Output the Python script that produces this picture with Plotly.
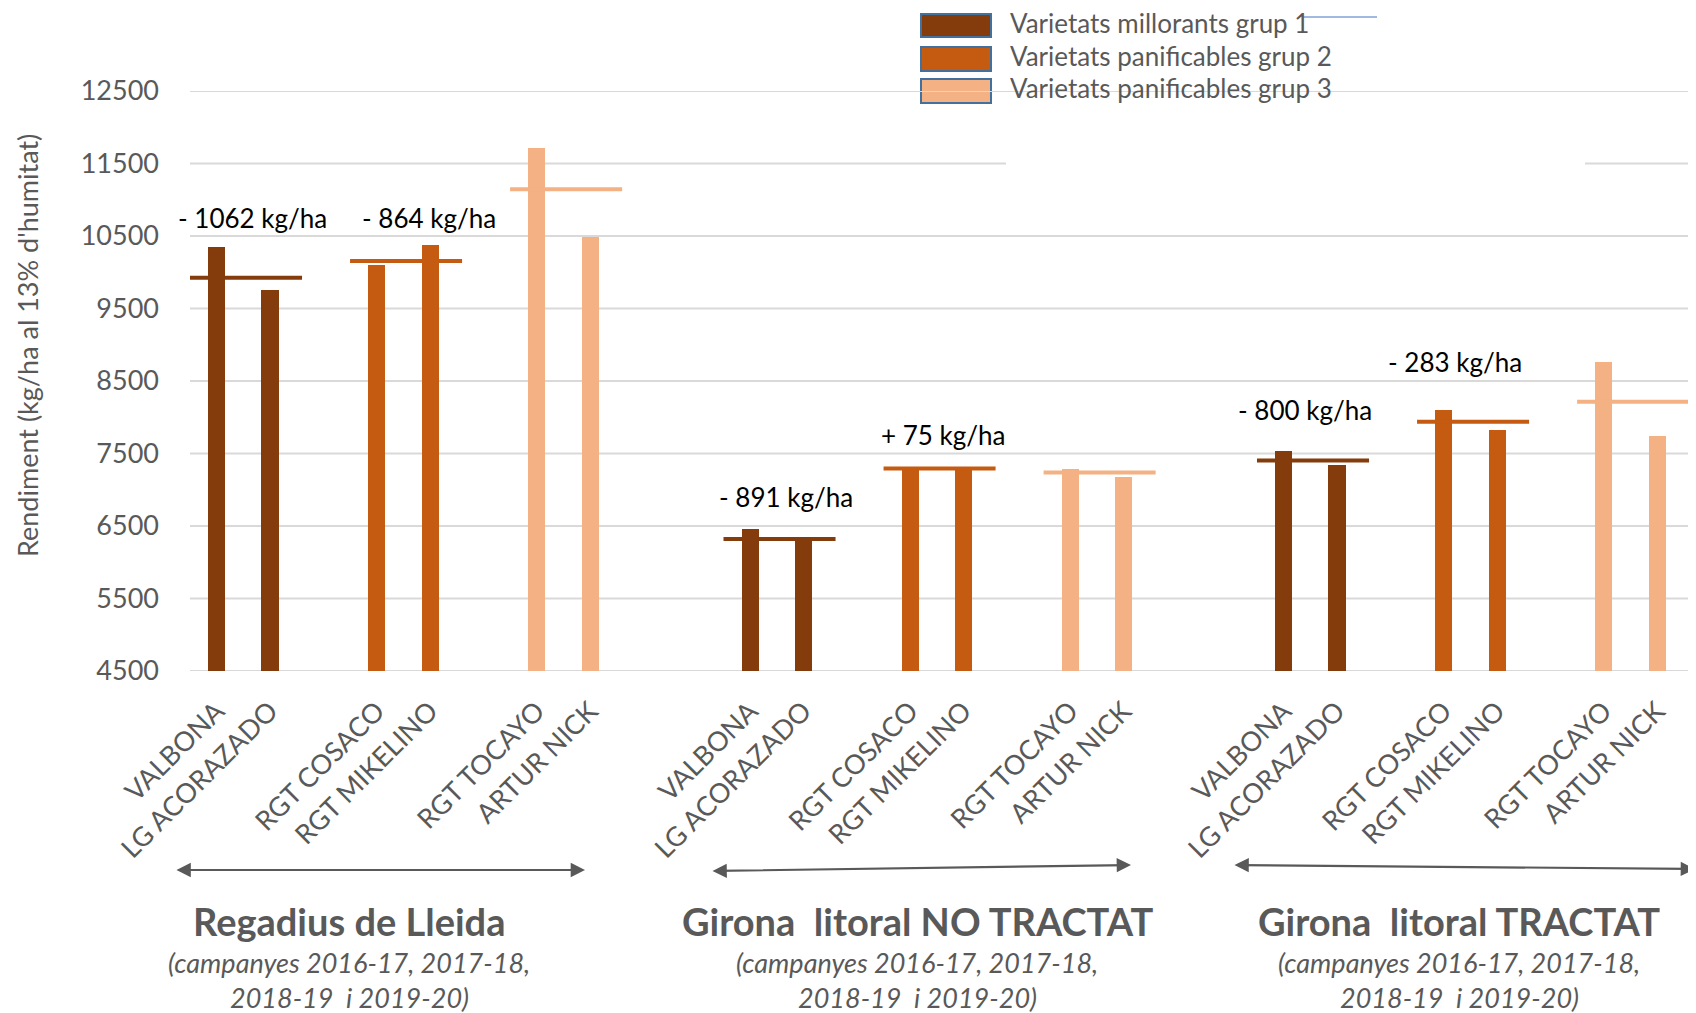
import plotly.graph_objects as go

# ---------------- data ----------------
varieties = ["VALBONA", "LG ACORAZADO", "RGT COSACO", "RGT MIKELINO", "RGT TOCAYO", "ARTUR NICK"]
variety_group = [0, 0, 1, 1, 2, 2]
group_names = ["Varietats millorants grup 1", "Varietats panificables grup 2", "Varietats panificables grup 3"]
zones = ["Regadius de Lleida", "Girona  litoral NO TRACTAT", "Girona  litoral TRACTAT"]
zone_period_1 = "(campanyes 2016-17, 2017-18,"
zone_period_2 = "2018-19 \u00a0i 2019-20)"

yield_lleida = [10342, 9756, 10096, 10372, 11707, 10480]
yield_girona_no_tractat = [6454, 6310, 7300, 7295, 7288, 7178]
yield_girona_tractat = [7537, 7343, 8099, 7823, 8763, 7740]

mean_lleida = [9924, 10155, 11145]
mean_girona_no_tractat = [6321, 7293, 7238]
mean_girona_tractat = [7403, 7938, 8214]

diff_lleida = ["- 1062 kg/ha", "- 864 kg/ha"]
diff_girona_no_tractat = ["- 891 kg/ha", "+ 75 kg/ha"]
diff_girona_tractat = ["- 800 kg/ha", "- 283 kg/ha"]

y_ticks = [4500, 5500, 6500, 7500, 8500, 9500, 10500, 11500, 12500]
y_title = "Rendiment (kg/ha al 13% d'humitat)"

zone_yields = [yield_lleida, yield_girona_no_tractat, yield_girona_tractat]
zone_means = [mean_lleida, mean_girona_no_tractat, mean_girona_tractat]
zone_diffs = [diff_lleida, diff_girona_no_tractat, diff_girona_tractat]

# ---------------- style / layout ----------------
colors = ["#843C0C", "#C55A11", "#F4B183"]
GRAY = "#595959"
FONT = "Lato"
OFF = 8                      # page body margin
W, H = 1696 - OFF, 1013 - OFF
L, T = 190 - OFF, 91 - OFF
PW, PH = W - L, 580
UNIT = 53.35
XR = [-0.5, -0.5 + PW / UNIT]


def px(x):   # page pixel -> paper x
    return (x - OFF - L) / PW


def py(y):   # page pixel -> paper y
    return 1 - (y - OFF - T) / PH


def slot(z, v):
    return z * 10 + (v // 2) * 3 + v % 2


fig = go.Figure()

# bars
for g in range(3):
    xs, ys = [], []
    for z in range(3):
        for v in range(len(varieties)):
            if variety_group[v] == g:
                xs.append(slot(z, v))
                ys.append(zone_yields[z][v])
    fig.add_trace(go.Bar(x=xs, y=ys, width=0.32, marker=dict(color=colors[g], line=dict(width=0)),
                         name=group_names[g], showlegend=False))

# mean lines
for z in range(3):
    for g in range(3):
        first = slot(z, 2 * g)
        fig.add_trace(go.Scatter(x=[first - 0.5, first + 1.6], y=[zone_means[z][g]] * 2, mode="lines",
                                 line=dict(color=colors[g], width=4), showlegend=False, hoverinfo="skip"))

annotations = []
shapes = []

# manual legend (swatches drawn first so the top gridline passes over them)
legend_rows = [(14, 37), (47, 71), (79, 103)]
for g in range(3):
    y0, y1 = legend_rows[g]
    shapes.append(dict(type="rect", xref="paper", yref="paper", x0=px(921), x1=px(991), y0=py(y1), y1=py(y0),
                       fillcolor=colors[g], line=dict(color="#41719C", width=2), layer="below"))
    annotations.append(dict(x=px(1008), y=py((y0 + y1) / 2 - 3), xref="paper", yref="paper",
                            xanchor="left", yanchor="middle",
                            text=group_names[g], showarrow=False, font=dict(family=FONT, size=26, color=GRAY)))
shapes.append(dict(type="line", xref="paper", yref="paper", x0=px(1303), x1=px(1377), y0=py(17), y1=py(17),
                   line=dict(color="#4472C4", width=1)))

# gridlines (11500 line is interrupted behind the legend area)
for v in y_ticks:
    segs = [(0, 1)] if v != 11500 else [(0, px(1006)), (px(1585), 1)]
    for a, b in segs:
        shapes.append(dict(type="line", xref="paper", yref="y", x0=a, x1=b, y0=v, y1=v,
                           line=dict(color="#D9D9D9", width=2), layer="below"))

# difference labels
label_offsets = [[(0.68, 409), (0.98, 379)], [(0.67, 446), (0.62, 451)], [(0.40, 564), (0.21, 663)]]
for z in range(3):
    for g in range(2):
        first = slot(z, 2 * g)
        top = max(zone_yields[z][2 * g], zone_yields[z][2 * g + 1], zone_means[z][g])
        dx, dy = label_offsets[z][g]
        annotations.append(dict(x=first + dx, y=top + dy, xref="x", yref="y", text=zone_diffs[z][g],
                                xanchor="center", yanchor="middle",
                                showarrow=False, font=dict(family=FONT, size=26, color="#000000")))

# y title
annotations.append(dict(x=px(27), y=py(346), xref="paper", yref="paper", text=y_title, textangle=-90,
                        xanchor="center", yanchor="middle",
                        showarrow=False, font=dict(family=FONT, size=27, color=GRAY)))

# zone arrows and titles
arrow_px = [(175, 870, 585, 870), (711, 871, 1131, 865), (1233, 865, 1702, 869)]
title_px = [349, 917, 1459]
for z in range(3):
    x0, y0, x1, y1 = arrow_px[z]
    annotations.append(dict(x=px(x1), y=py(y1), xref="paper", yref="paper", ax=x0 - x1, ay=y0 - y1,
                            axref="pixel", ayref="pixel", text="", showarrow=True, arrowhead=2,
                            arrowside="end+start", arrowsize=1.3, arrowwidth=2.2, arrowcolor=GRAY))
    annotations.append(dict(x=px(title_px[z]), y=py(921), xref="paper", yref="paper",
                            xanchor="center", yanchor="middle",
                            text="<b>" + zones[z] + "</b>", showarrow=False,
                            font=dict(family=FONT, size=38, color=GRAY)))
    annotations.append(dict(x=px(title_px[z]), y=py(963), xref="paper", yref="paper",
                            xanchor="center", yanchor="middle",
                            text="<i>" + zone_period_1 + "</i>", showarrow=False,
                            font=dict(family=FONT, size=27, color=GRAY)))
    annotations.append(dict(x=px(title_px[z]), y=py(997), xref="paper", yref="paper",
                            xanchor="center", yanchor="middle",
                            text="<i>" + zone_period_2 + "</i>", showarrow=False,
                            font=dict(family=FONT, size=27, color=GRAY)))

fig.update_layout(
    width=W, height=H,
    margin=dict(l=L, r=0, t=T, b=H - T - PH, pad=0, autoexpand=False),
    plot_bgcolor="white", paper_bgcolor="white",
    bargap=0, showlegend=False,
    annotations=annotations, shapes=shapes,
    font=dict(family=FONT, color=GRAY),
)
tick_x = [slot(z, v) for z in range(3) for v in range(len(varieties))]
tick_t = [varieties[v] for z in range(3) for v in range(len(varieties))]
fig.update_xaxes(range=XR, tickvals=tick_x, ticktext=tick_t, tickangle=-45, showgrid=False,
                 zeroline=False, showline=False, ticks="", ticklabelstandoff=18, automargin=False,
                 tickfont=dict(family=FONT, size=27, color=GRAY))
fig.update_yaxes(range=[4500, 12500], tickvals=y_ticks, ticktext=[str(v) for v in y_ticks],
                 showgrid=False, zeroline=False, showline=False, ticks="", ticklabelstandoff=30,
                 automargin=False, tickfont=dict(family=FONT, size=27, color=GRAY))

fig.write_html("out.html")
